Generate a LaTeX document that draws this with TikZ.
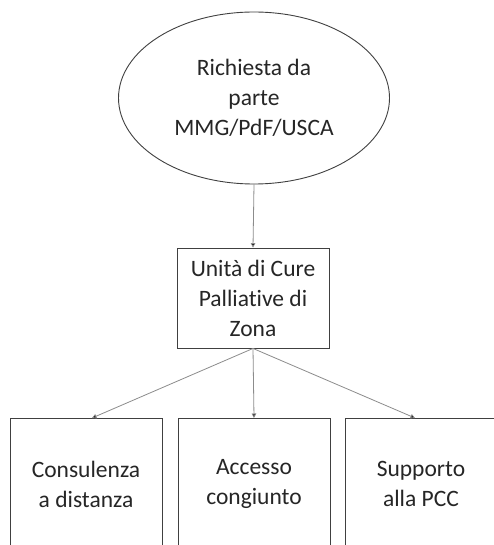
\documentclass[tikz,border=0pt]{standalone}
\usepackage{fontspec}
\setmainfont{Carlito}[Ligatures=NoCommon]
\usetikzlibrary{shapes.geometric}
\usetikzlibrary{arrows.meta}
\begin{document}
\begin{tikzpicture}[x=1pt, y=-1pt,
  every node/.style={font=\fontsize{23.5}{30}\selectfont, text=black!85, align=center},
  bubble/.style={ellipse, draw=black!75, line width=0.9pt, minimum width=271pt, minimum height=172pt, inner sep=0pt},
  unitbox/.style={rectangle, draw=black!75, line width=0.9pt, minimum width=152pt, minimum height=100pt, inner sep=0pt},
  leafbox/.style={rectangle, draw=black!75, line width=0.9pt, minimum width=152pt, minimum height=132pt, inner sep=0pt, anchor=north},
  link/.style={draw=black!45, line width=0.8pt, -{Triangle[length=4.5pt, width=4.5pt, fill=black]}}]
\useasboundingbox[fill=white] (0,0) rectangle (494,545);
\node[bubble] (req) at (254,98) {Richiesta da\\parte\\MMG/PdF/USCA};
\node[unitbox] (ucp) at (253,298) {Unità di Cure\\Palliative di\\Zona};
\node[leafbox] (cons) at (86,418) {Consulenza\\a distanza};
\node[leafbox] (acc) at (254,418) {Accesso\\congiunto};
\node[leafbox] (supp) at (421,418) {Supporto\\alla PCC};
\draw[link] (req.south) -- (ucp.north);
\draw[link] (ucp.south) -- ([xshift=6pt]cons.north);
\draw[link] (ucp.south) -- (acc.north);
\draw[link] (ucp.south) -- ([xshift=-6pt]supp.north);
\end{tikzpicture}
\end{document}
